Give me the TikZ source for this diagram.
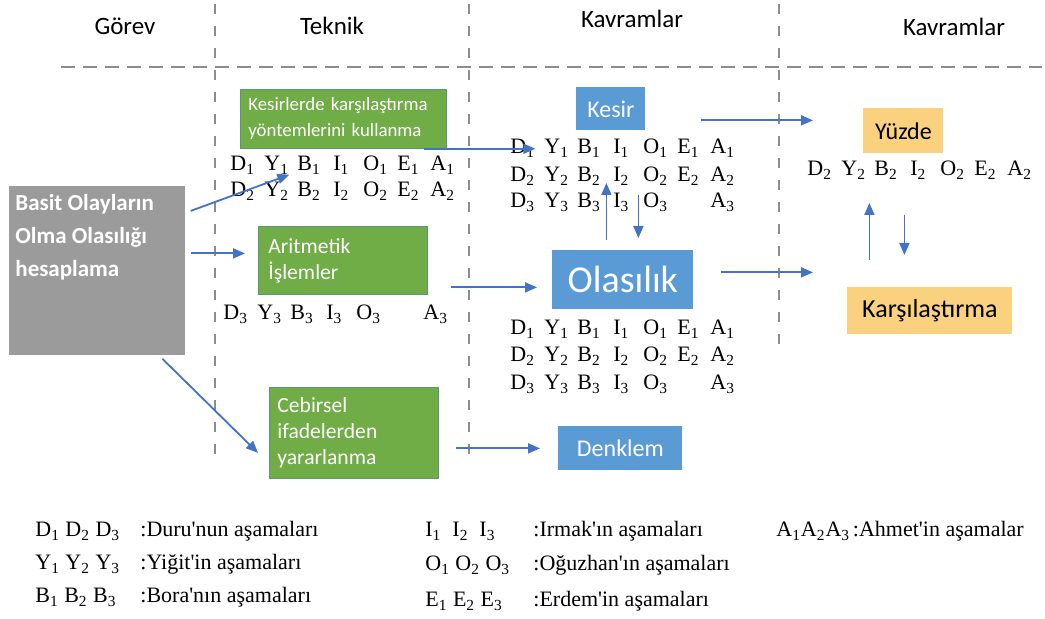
\documentclass[tikz,border=0pt]{standalone}
\usepackage{fontspec}
\setmainfont{Liberation Serif}[Ligatures=TeXOff]
\newfontfamily\carlito{Carlito}
\usetikzlibrary{
    arrows.meta,
    positioning
}
\definecolor{flowblue}{HTML}{4472C4}
\definecolor{boxgreen}{HTML}{70AD47}
\definecolor{boxblue}{HTML}{5B9BD5}
\definecolor{boxgold}{HTML}{FAD27F}
\definecolor{boxgray}{HTML}{9B9B9B}
\definecolor{gridgray}{HTML}{8C8C8C}
\newcommand\stagesall{D/0,Y/34,B/67,I/103,O/133,E/167,A/200}
\newcommand\stagesnoE{D/0,Y/34,B/67,I/103,O/133,A/200}
\tikzset{
    header/.style={font=\carlito\fontsize{12.5}{14}\selectfont},
    colline/.style={gridgray, line width=0.7pt, dash pattern=on 5pt off 6pt},
    rowline/.style={gridgray, line width=0.7pt, dash pattern=on 7pt off 4pt},
    taskbox/.style={fill=boxgray, text=white, anchor=north west, inner sep=3pt,
        font=\carlito\bfseries\fontsize{11.5}{16.5}\selectfont},
    technique/.style={draw=boxgreen!60!flowblue, fill=boxgreen, text=white,
        align=left, anchor=north west, inner xsep=4pt, inner ysep=2pt},
    concept/.style={fill=boxblue, text=white, anchor=north west, inner sep=0pt},
    goal/.style={fill=boxgold, text=black, anchor=north west, inner sep=0pt},
    stage/.style={inner sep=0pt, anchor=base west, font=\fontsize{11}{12}\selectfont},
    legend/.style={inner sep=0pt, anchor=base west, font=\fontsize{11}{12}\selectfont},
    flow/.style={flowblue, line width=0.9pt, -{Triangle[length=6pt,width=5pt]}},
    pics/stagerow/.style 2 args={code={
        \foreach \l/\dx in #2 {\node[stage] (-\l) at (\dx,0) {\l\textsubscript{#1}};}
    }}
}

\begin{document}
\begin{tikzpicture}[x=0.5pt, y=-0.5pt]
    \useasboundingbox (0,0) rectangle (1045,619);
    % column heads and grid
    \node[header] (hgorev) at (125,26) {Görev};
    \node[header] (hteknik) at (332,26) {Teknik};
    \node[header] (hkavram) at (632,19) {Kavramlar};
    \node[header] (hkavramb) at (954,27) {Kavramlar};
    \draw[rowline] (61,67) -- (1042,67);
    \draw[colline] (215,4) -- (215,458);
    \draw[colline] (469,4) -- (469,456);
    \draw[colline] (779,4) -- (779,352);

    % task
    \node[taskbox] (gorev) at (9,186)
        {\parbox[t][78.5pt][t]{82pt}{\vspace*{1pt}Basit Olayların\\Olma Olasılığı\\hesaplama}};

    % techniques
    \node[technique, text width=95pt, minimum height=29.5pt,
        font=\carlito\fontsize{9.4}{13}\selectfont] (g1) at (240,89)
        {Kesirlerde karşılaştırma\\yöntemlerini kullanma};
    \node[technique, text width=76.5pt, minimum height=34pt, inner xsep=4pt,
        font=\carlito\fontsize{10.8}{13}\selectfont] (g2) at (258,226)
        {\hspace*{1pt}Aritmetik\\\hspace*{1pt}İşlemler};
    \node[technique, text width=76.5pt, minimum height=45.5pt,
        font=\carlito\fontsize{10.8}{13}\selectfont] (g3) at (269,387)
        {Cebirsel\\ifadelerden\\yararlanma};

    % concepts
    \node[concept, minimum width=34.5pt, minimum height=21.5pt,
        font=\carlito\fontsize{12}{14}\selectfont] (kesir) at (576,87) {Kesir};
    \node[concept, minimum width=70.5pt, minimum height=29.5pt,
        font=\carlito\fontsize{19}{21}\selectfont] (ola) at (552,250) {Olasılık};
    \node[concept, minimum width=62pt, minimum height=22pt,
        font=\carlito\fontsize{12}{14}\selectfont] (denklem) at (558,426) {Denklem};
    \node[goal, minimum width=40pt, minimum height=22.5pt,
        font=\carlito\fontsize{12}{14}\selectfont] (yuzde) at (863,108) {Yüzde};
    \node[goal, minimum width=82.5pt, minimum height=23.5pt,
        font=\carlito\fontsize{13}{15}\selectfont] (kars) at (847,287) {Karşılaştırma};

    % stages of the students
    \pic (t1) at (230,171) {stagerow={1}{\stagesall}};
    \pic (t2) at (230,197) {stagerow={2}{\stagesall}};
    \pic (t3) at (223,320) {stagerow={3}{\stagesnoE}};
    \pic (k1) at (510,154) {stagerow={1}{\stagesall}};
    \pic (k2) at (510,182) {stagerow={2}{\stagesall}};
    \pic (k3) at (510,208) {stagerow={3}{\stagesnoE}};
    \pic (o1) at (510,335) {stagerow={1}{\stagesall}};
    \pic (o2) at (510,362) {stagerow={2}{\stagesall}};
    \pic (o3) at (510,390) {stagerow={3}{\stagesnoE}};
    \pic (y2) at (807,176) {stagerow={2}{\stagesall}};

    % arrows
    \draw[flow] ([xshift=2.5pt,yshift=30pt]gorev.east) -- (t1-Y.south east);
    \draw[flow] ([xshift=2.5pt,yshift=8.75pt]gorev.east) -- ([xshift=-6.5pt,yshift=3.5pt]g2.west);
    \draw[flow] ([xshift=32.5pt,yshift=-1.5pt]gorev.south) -- ([xshift=-5.5pt,yshift=-10pt]g3.west);
    \draw[flow] ([xshift=-11.5pt]g1.south east) -- (k1-D.east |- g1.south);
    \draw[flow] ([xshift=11.5pt,yshift=-13.5pt]g2.east) -- ([xshift=-7.5pt,yshift=-3.75pt]ola.west);
    \draw[flow] ([xshift=8.5pt,yshift=-7.75pt]g3.east) -- ([xshift=-9pt]denklem.west);
    \draw[flow] ([xshift=27.5pt,yshift=-5.75pt]kesir.east) -- ([xshift=-25pt,yshift=5.25pt]yuzde.west);
    \draw[flow] ([xshift=13.5pt,yshift=3.75pt]ola.east) -- ([xshift=-17pt,yshift=19.25pt]kars.west);
    \draw[flow] ([xshift=-8.25pt,yshift=5pt]ola.north) -- ([xshift=-8.25pt,yshift=33.5pt]ola.north);
    \draw[flow] ([xshift=7.75pt,yshift=27.5pt]ola.north) -- ([xshift=7.75pt,yshift=6pt]ola.north);
    \draw[flow] ([xshift=-30.25pt,yshift=13.5pt]kars.north) -- ([xshift=-30.25pt,yshift=42pt]kars.north);
    \draw[flow] ([xshift=-12.75pt,yshift=36pt]kars.north) -- ([xshift=-12.75pt,yshift=16pt]kars.north);

    % legend
    \node[legend] (ld) at (35,537) {D\textsubscript{1} D\textsubscript{2} D\textsubscript{3}};
    \node[legend] (ldt) at (140,537) {:Duru'nun aşamaları};
    \node[legend] (ly) at (35,570) {Y\textsubscript{1} Y\textsubscript{2} Y\textsubscript{3}};
    \node[legend] (lyt) at (140,570) {:Yiğit'in aşamaları};
    \node[legend] (lb) at (35,603) {B\textsubscript{1} B\textsubscript{2} B\textsubscript{3}};
    \node[legend] (lbt) at (140,603) {:Bora'nın aşamaları};
    \node[legend] (li) at (425,537) {I\textsubscript{1} \ I\textsubscript{2} \ I\textsubscript{3}};
    \node[legend] (lit) at (533,537) {:Irmak'ın aşamaları};
    \node[legend] (lo) at (425,571) {O\textsubscript{1} O\textsubscript{2} O\textsubscript{3}};
    \node[legend] (lot) at (533,571) {:Oğuzhan'ın aşamaları};
    \node[legend] (le) at (425,607) {E\textsubscript{1} E\textsubscript{2} E\textsubscript{3}};
    \node[legend] (let) at (533,607) {:Erdem'in aşamaları};
    \node[legend] (la) at (776,537) {A\textsubscript{1}A\textsubscript{2}A\textsubscript{3}};
    \node[legend, right=1pt of la.base east, anchor=base west] (lat) {:Ahmet'in aşamalar};
\end{tikzpicture}
\end{document}
